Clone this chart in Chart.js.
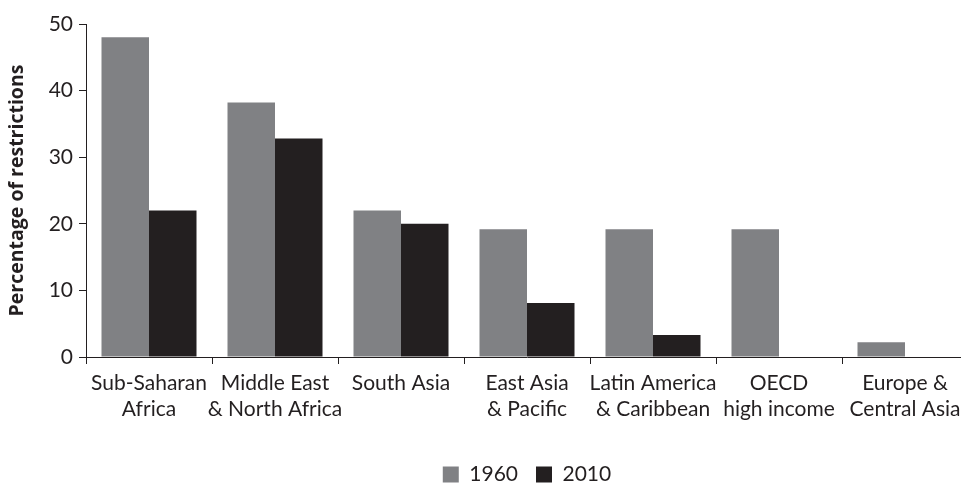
<!DOCTYPE html>
<html>
<head>
<meta charset="utf-8">
<script src="https://cdn.jsdelivr.net/npm/chart.js@4"></script>
<style>
  html, body { margin: 0; padding: 0; background: #fff; overflow: hidden; }
  #wrap { width: 968px; height: 483px; position: relative; }
</style>
</head>
<body>
<div id="wrap"><canvas id="grafico"></canvas></div>
<script>
const categorias = [
    ['Sub-Saharan', 'Africa'],
    ['Middle East', '& North Africa'],
    ['South Asia'],
    ['East Asia', '& Pacific'],
    ['Latin America', '& Caribbean'],
    ['OECD', 'high income'],
    ['Europe &', 'Central Asia']
];
const valores1960 = [48, 38.2, 22, 19.2, 19.2, 19.2, 2.2];
const valores2010 = [22, 32.8, 20, 8.1, 3.3, 0, 0];
const ticksY = [0, 10, 20, 30, 40, 50];

const fonte = 'Lato, "Open Sans", sans-serif';
const corTexto = '#231f20';

window.onload = function () {
    const ctx = document.getElementById('grafico').getContext('2d');
    new Chart(ctx, {
        type: 'bar',
        data: {
            labels: categorias,
            datasets: [{
                label: '1960',
                data: valores1960,
                backgroundColor: '#808184',
                borderWidth: 0,
                categoryPercentage: 0.754,
                barPercentage: 1
            }, {
                label: '2010',
                data: valores2010,
                backgroundColor: '#231f20',
                borderWidth: 0,
                categoryPercentage: 0.754,
                barPercentage: 1
            }]
        },
        options: {
            responsive: true,
            maintainAspectRatio: false,
            animation: false,
            layout: {
                padding: { top: 24, left: 0, right: 0, bottom: -12 }
            },
            scales: {
                y: {
                    min: 0,
                    max: 50,
                    afterBuildTicks: function (scale) {
                        scale.ticks = ticksY.map(v => ({ value: v }));
                    },
                    afterFit: function (scale) {
                        scale.width = 86;
                    },
                    border: { display: true, color: corTexto, width: 1 },
                    grid: {
                        display: true,
                        drawOnChartArea: false,
                        drawTicks: true,
                        tickLength: 7,
                        color: corTexto
                    },
                    ticks: {
                        color: corTexto,
                        padding: 6,
                        font: { family: fonte, size: 21 }
                    },
                    title: {
                        display: true,
                        text: 'Percentage of restrictions',
                        color: corTexto,
                        padding: { top: 6, bottom: 0 },
                        font: { family: '"Open Sans", Lato, sans-serif', size: 19.5, weight: 'bold' }
                    }
                },
                x: {
                    afterFit: function (scale) {
                        scale.height = 89;
                    },
                    border: { display: true, color: corTexto, width: 1 },
                    grid: {
                        display: true,
                        offset: true,
                        drawOnChartArea: false,
                        drawTicks: true,
                        tickLength: 7,
                        color: corTexto
                    },
                    ticks: {
                        color: corTexto,
                        padding: 7,
                        maxRotation: 0,
                        autoSkip: false,
                        font: { family: fonte, size: 21, lineHeight: 1.2 }
                    }
                }
            },
            plugins: {
                legend: {
                    position: 'bottom',
                    fullSize: false,
                    labels: {
                        color: corTexto,
                        boxWidth: 16,
                        boxHeight: 16,
                        padding: 18,
                        font: { family: fonte, size: 21 }
                    }
                },
                tooltip: { enabled: false }
            }
        }
    });
};
</script>
</body>
</html>
